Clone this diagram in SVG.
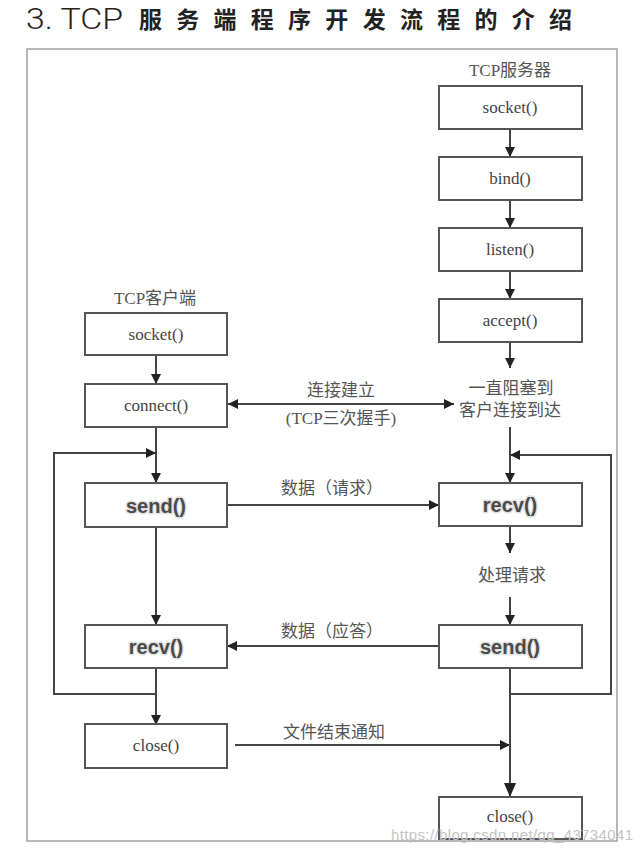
<svg xmlns="http://www.w3.org/2000/svg" width="640" height="849" viewBox="0 0 640 849">
<style>
.box{fill:#fff;stroke:#555;stroke-width:2}
.fn{font-family:"Liberation Serif","Times New Roman",serif;font-size:17px;fill:#444;text-anchor:middle}
.fb{font-family:"Liberation Sans",Arial,sans-serif;font-weight:bold;font-size:20px;fill:#4a4a4a;text-anchor:middle;stroke:#e2e2e2;stroke-width:3;paint-order:stroke;stroke-linejoin:round}
.cn{font-family:"Liberation Serif","Noto Sans CJK SC",serif;font-size:17px;fill:#555;text-anchor:middle}
.ln{fill:none;stroke:#444;stroke-width:2}
</style>
<defs>
<marker id="ah" markerUnits="userSpaceOnUse" markerWidth="10" markerHeight="10" refX="10" refY="5" orient="auto">
<path d="M0,0 L10,5 L0,10 z" fill="#222"/>
</marker>
<marker id="ahs" markerUnits="userSpaceOnUse" markerWidth="10" markerHeight="10" refX="0" refY="5" orient="auto">
<path d="M10,0 L0,5 L10,10 z" fill="#222"/>
</marker>
<marker id="ahb" markerUnits="userSpaceOnUse" markerWidth="14" markerHeight="12" refX="14" refY="6" orient="auto">
<path d="M0,0 L14,6 L0,12 z" fill="#222"/>
</marker>
</defs>
<rect width="640" height="849" fill="#fff"/>
<g id="title">
<text x="26" y="29" font-family="Roboto,Liberation Sans,sans-serif" font-weight="300" font-size="30" fill="#2a2118" textLength="97" lengthAdjust="spacingAndGlyphs">3. TCP</text>
<text x="139" y="28" font-family="Noto Sans CJK SC,sans-serif" font-weight="700" font-size="23" fill="#222" textLength="433" lengthAdjust="spacing">服务端程序开发流程的介绍</text>
</g>
<rect id="frame" x="27" y="49" width="590" height="792" fill="none" stroke="#a0a0a0" stroke-width="1.5"/>
<g id="connectors">
<line class="ln" x1="510" y1="129" x2="510" y2="157" marker-end="url(#ah)"/>
<line class="ln" x1="510" y1="200" x2="510" y2="228" marker-end="url(#ah)"/>
<line class="ln" x1="510" y1="271" x2="510" y2="299" marker-end="url(#ah)"/>
<line class="ln" x1="510" y1="342" x2="510" y2="368" marker-end="url(#ah)"/>
<line class="ln" x1="156" y1="355" x2="156" y2="384" marker-end="url(#ah)"/>
<line class="ln" x1="228" y1="404" x2="454" y2="404" marker-start="url(#ahs)" marker-end="url(#ah)"/>
<line class="ln" x1="156" y1="427" x2="156" y2="483" marker-end="url(#ah)"/>
<path class="ln" d="M156,694 H54 V453 H156" marker-end="url(#ah)"/>
<line class="ln" x1="510" y1="427" x2="510" y2="483" marker-end="url(#ah)"/>
<path class="ln" d="M510,694 H611 V455 H510" marker-end="url(#ah)"/>
<line class="ln" x1="227" y1="505" x2="439" y2="505" marker-end="url(#ah)"/>
<line class="ln" x1="510" y1="526" x2="510" y2="553" marker-end="url(#ah)"/>
<line class="ln" x1="510" y1="597" x2="510" y2="625" marker-end="url(#ah)"/>
<line class="ln" x1="156" y1="527" x2="156" y2="625" marker-end="url(#ah)"/>
<line class="ln" x1="439" y1="646" x2="227" y2="646" marker-end="url(#ah)"/>
<line class="ln" x1="156" y1="668" x2="156" y2="725" marker-end="url(#ah)"/>
<line class="ln" x1="235" y1="745" x2="510" y2="745" marker-end="url(#ah)"/>
<line class="ln" x1="510" y1="668" x2="510" y2="797" marker-end="url(#ahb)"/>
</g>
<g id="server-label"><text class="cn" x="510" y="76">TCP服务器</text></g>
<g id="s-socket"><rect class="box" x="439" y="86" width="143" height="43"/><text class="fn" x="510" y="113">socket()</text></g>
<g id="s-bind"><rect class="box" x="439" y="157" width="143" height="43"/><text class="fn" x="510" y="184">bind()</text></g>
<g id="s-listen"><rect class="box" x="439" y="228" width="143" height="43"/><text class="fn" x="510" y="255">listen()</text></g>
<g id="s-accept"><rect class="box" x="439" y="299" width="143" height="43"/><text class="fn" x="510" y="326">accept()</text></g>
<g id="s-block"><text class="cn" x="511" y="394">一直阻塞到</text><text class="cn" x="510" y="416">客户连接到达</text></g>
<g id="s-recv"><rect class="box" x="439" y="483" width="143" height="43"/><text class="fb" x="510" y="512">recv()</text></g>
<g id="s-process"><text class="cn" x="512" y="581">处理请求</text></g>
<g id="s-send"><rect class="box" x="439" y="625" width="143" height="43"/><text class="fb" x="510" y="654">send()</text></g>
<g id="s-close"><rect class="box" x="439" y="797" width="143" height="42"/><text class="fn" x="510" y="822">close()</text></g>
<g id="client-label"><text class="cn" x="155" y="304">TCP客户端</text></g>
<g id="c-socket"><rect class="box" x="85" y="313" width="142" height="42"/><text class="fn" x="156" y="340">socket()</text></g>
<g id="c-connect"><rect class="box" x="85" y="384" width="142" height="43"/><text class="fn" x="156" y="411">connect()</text></g>
<g id="c-send"><rect class="box" x="85" y="483" width="142" height="44"/><text class="fb" x="156" y="513">send()</text></g>
<g id="c-recv"><rect class="box" x="85" y="625" width="142" height="43"/><text class="fb" x="156" y="654">recv()</text></g>
<g id="c-close"><rect class="box" x="85" y="724" width="142" height="44"/><text class="fn" x="156" y="751">close()</text></g>
<g id="labels">
<text class="cn" x="341" y="396">连接建立</text>
<text class="cn" x="341" y="424">(TCP三次握手)</text>
<text class="cn" x="332" y="494">数据（请求）</text>
<text class="cn" x="332" y="637">数据（应答）</text>
<text class="cn" x="334" y="738">文件结束通知</text>
</g>
<text id="watermark" x="391" y="840" font-family="Liberation Sans,Arial,sans-serif" font-size="15" fill="#c4c4c4" textLength="242">https://blog.csdn.net/qq_43734041</text>
</svg>
